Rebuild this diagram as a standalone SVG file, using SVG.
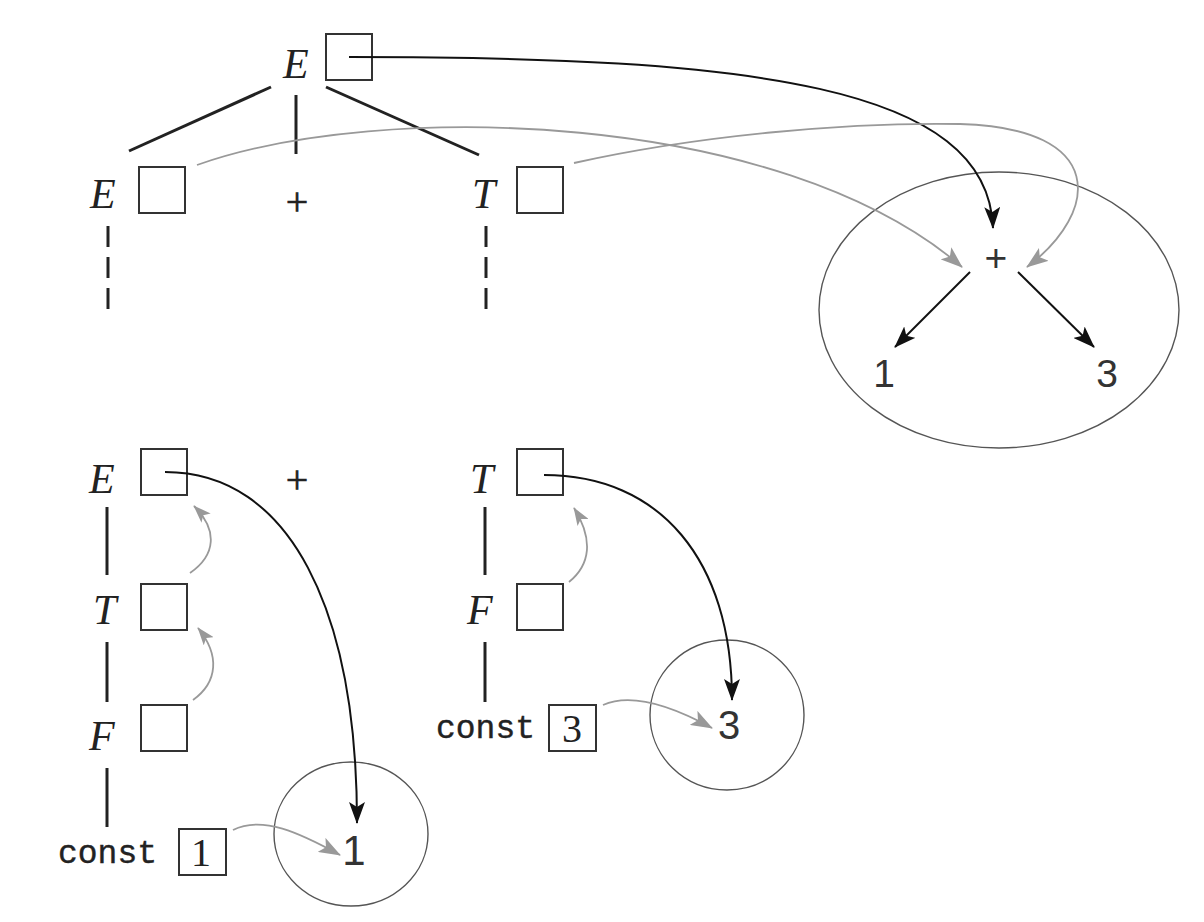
<svg xmlns="http://www.w3.org/2000/svg" width="1204" height="922" viewBox="0 0 1204 922">
<defs>
<marker id="ab" markerUnits="userSpaceOnUse" viewBox="0 0 22 16" markerWidth="22" markerHeight="16" refX="21" refY="8" orient="auto"><path d="M0,0 L22,8 L0,16 L5,8 z" fill="#111"/></marker>
<marker id="ag" markerUnits="userSpaceOnUse" viewBox="0 0 22 16" markerWidth="22" markerHeight="16" refX="21" refY="8" orient="auto"><path d="M0,0 L22,8 L0,16 L5,8 z" fill="#999"/></marker>
<marker id="ags" markerUnits="userSpaceOnUse" viewBox="0 0 22 16" markerWidth="18" markerHeight="13" refX="21" refY="8" orient="auto"><path d="M0,0 L22,8 L0,16 L5,8 z" fill="#999"/></marker>
</defs>
<style>
.nt{font-family:"Liberation Serif","Times New Roman",serif;font-style:italic;font-size:42px;fill:#222}
.pl{font-family:"Liberation Serif",serif;font-size:40px;fill:#222;stroke:#222;stroke-width:0.6;text-anchor:middle}
.bx{fill:#fff;stroke:#333;stroke-width:2}
.tr{stroke:#222;stroke-width:3;fill:none}
.ds{stroke:#222;stroke-width:3;stroke-dasharray:21 10;fill:none}
.cn{font-family:"Liberation Mono","Courier New",monospace;font-size:33px;fill:#222;stroke:#222;stroke-width:0.4}
.bv{font-family:"Liberation Serif",serif;font-size:40px;fill:#222;text-anchor:middle}
.sv{font-family:"Liberation Sans",Arial,sans-serif;font-size:39px;fill:#333;text-anchor:middle}
.el{fill:none;stroke:#555;stroke-width:1.4}
.bk{fill:none;stroke:#111;stroke-width:2}
.gr{fill:none;stroke:#999;stroke-width:1.8}
</style>

<g id="tree-lines">
<line class="tr" x1="271" y1="87" x2="129" y2="151"/>
<line class="tr" x1="296" y1="95" x2="296" y2="154"/>
<line class="tr" x1="326" y1="87" x2="479" y2="155"/>
<line class="ds" x1="108" y1="226" x2="108" y2="309"/>
<line class="ds" x1="486" y1="226" x2="486" y2="309"/>
<line class="tr" x1="107" y1="507" x2="107" y2="575"/>
<line class="tr" x1="107" y1="642" x2="107" y2="702"/>
<line class="tr" x1="107" y1="768" x2="107" y2="827"/>
<line class="tr" x1="485" y1="507" x2="485" y2="575"/>
<line class="tr" x1="485" y1="642" x2="485" y2="702"/>
</g>

<g id="n-E-top"><text class="nt" x="283" y="78">E</text><rect class="bx" x="326" y="34" width="46" height="46"/></g>
<g id="n-E-left"><text class="nt" x="90" y="208">E</text><rect class="bx" x="139" y="167" width="46" height="46"/></g>
<g id="n-plus-top"><text class="pl" x="297" y="215">+</text></g>
<g id="n-T-right"><text class="nt" x="472" y="208">T</text><rect class="bx" x="517" y="167" width="46" height="46"/></g>

<g id="n-E-b"><text class="nt" x="89" y="493">E</text><rect class="bx" x="141" y="449" width="46" height="46"/></g>
<g id="n-plus-b"><text class="pl" x="297" y="493">+</text></g>
<g id="n-T-b"><text class="nt" x="93" y="624">T</text><rect class="bx" x="141" y="584" width="46" height="46"/></g>
<g id="n-F-b"><text class="nt" x="89" y="750">F</text><rect class="bx" x="141" y="705" width="46" height="46"/></g>
<g id="n-const1"><text class="cn" x="58" y="863">const</text><rect class="bx" x="179" y="829" width="47" height="46"/><text class="bv" x="201" y="866">1</text></g>

<g id="n-T-rb"><text class="nt" x="470" y="493">T</text><rect class="bx" x="517" y="449" width="46" height="46"/></g>
<g id="n-F-rb"><text class="nt" x="467" y="624">F</text><rect class="bx" x="517" y="584" width="46" height="46"/></g>
<g id="n-const3"><text class="cn" x="436" y="738">const</text><rect class="bx" x="549" y="705" width="47" height="46"/><text class="bv" x="572" y="742">3</text></g>

<g id="n-ast"><ellipse class="el" cx="999" cy="310" rx="180" ry="138"/>
<text class="sv" x="996" y="271">+</text>
<text class="sv" x="884" y="387">1</text>
<text class="sv" x="1107" y="387">3</text></g>
<g id="n-leaf1"><ellipse class="el" cx="351" cy="834" rx="77" ry="72"/><text class="sv" x="354" y="865" style="font-size:42px">1</text></g>
<g id="n-leaf3"><ellipse class="el" cx="727" cy="715" rx="77" ry="75"/><text class="sv" x="729" y="739" style="font-size:40px">3</text></g>

<g id="connectors">
<path class="bk" d="M349,57 C750,57 988,85 993,228" marker-end="url(#ab)"/>
<path class="gr" d="M197,165 C380,100 780,110 962,267" marker-end="url(#ag)"/>
<path class="gr" d="M574,163 C700,135 850,122 960,124 C1108,128 1100,212 1027,267" marker-end="url(#ag)"/>
<path class="bk" d="M970,272 L895,347" marker-end="url(#ab)"/>
<path class="bk" d="M1018,272 L1094,347" marker-end="url(#ab)"/>
<path class="bk" d="M165,472 C290,472 357,610 357,823" marker-end="url(#ab)"/>
<path class="bk" d="M544,475 C660,475 732,560 732,700" marker-end="url(#ab)"/>
<path class="gr" d="M190,573 C216,555 218,530 194,506" marker-end="url(#ags)"/>
<path class="gr" d="M193,700 C218,682 220,655 198,628" marker-end="url(#ags)"/>
<path class="gr" d="M569,582 C590,565 594,540 574,508" marker-end="url(#ags)"/>
<path class="gr" d="M233,830 C262,815 300,833 340,855" marker-end="url(#ag)"/>
<path class="gr" d="M603,705 C630,693 670,705 712,728" marker-end="url(#ag)"/>
</g>
</svg>
